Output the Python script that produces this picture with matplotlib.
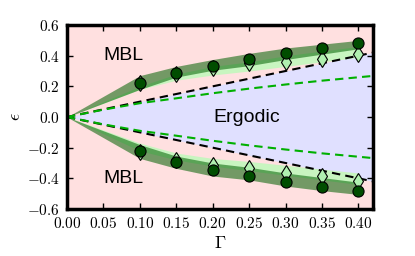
import matplotlib
matplotlib.use('Agg')
import matplotlib.pyplot as plt
from matplotlib.ticker import FuncFormatter

plt.rcParams['mathtext.fontset'] = 'cm'

# data
gamma = [0.10, 0.15, 0.20, 0.25, 0.30, 0.35, 0.40]
eps_circ_up = [0.22, 0.29, 0.335, 0.378, 0.42, 0.448, 0.48]
eps_circ_dn = [-0.22, -0.295, -0.345, -0.382, -0.421, -0.454, -0.482]
eps_diam_up = [0.225, 0.28, 0.32, 0.35, 0.36, 0.378, 0.41]
eps_diam_dn = [-0.225, -0.28, -0.313, -0.335, -0.363, -0.385, -0.415]

band_g = [0.0, 0.10, 0.15, 0.20, 0.25, 0.30, 0.35, 0.40]
dark_up_hi = [0.0, 0.27, 0.33, 0.375, 0.415, 0.45, 0.475, 0.50]
dark_up_lo = [0.0, 0.18, 0.26, 0.305, 0.335, 0.375, 0.41, 0.445]
light_up_hi = [0.0, 0.20, 0.28, 0.33, 0.36, 0.40, 0.43, 0.46]
light_up_lo = [0.0, 0.18, 0.24, 0.274, 0.30, 0.33, 0.36, 0.39]
dark_dn_hi = [0.0, -0.18, -0.255, -0.30, -0.328, -0.365, -0.395, -0.425]
dark_dn_lo = [0.0, -0.27, -0.335, -0.385, -0.41, -0.45, -0.48, -0.505]
light_dn_hi = [0.0, -0.17, -0.235, -0.27, -0.29, -0.315, -0.34, -0.365]
light_dn_lo = [0.0, -0.22, -0.28, -0.32, -0.35, -0.38, -0.41, -0.44]

edge_g = [0.0, 0.42]
edge_eps = [0.0, 0.42]

green_g = [0.0, 0.05, 0.10, 0.15, 0.20, 0.25, 0.30, 0.35, 0.42]
green_eps = [0.0, 0.048, 0.09, 0.122, 0.155, 0.185, 0.212, 0.237, 0.268]

fig = plt.figure(figsize=(4.15, 2.56), dpi=100)
ax = fig.add_axes([0.1614, 0.1836, 0.7374, 0.7187])
ax.set_facecolor('#ffe0e0')

# ergodic region
ax.fill_between(edge_g, [-e for e in edge_eps], edge_eps, color='#e0e0ff', lw=0, zorder=1)

# error bands
ax.fill_between(band_g, light_up_lo, light_up_hi, color='#c8f5c0', lw=0, zorder=2)
ax.fill_between(band_g, light_dn_lo, light_dn_hi, color='#c8f5c0', lw=0, zorder=2)
ax.fill_between(band_g, dark_up_lo, dark_up_hi, color='#006000', alpha=0.55, lw=0, zorder=3)
ax.fill_between(band_g, dark_dn_lo, dark_dn_hi, color='#006000', alpha=0.55, lw=0, zorder=3)

# boundaries
ax.plot(edge_g, edge_eps, '--', color='k', lw=1.5, dashes=(4, 2.5), zorder=4)
ax.plot(edge_g, [-e for e in edge_eps], '--', color='k', lw=1.5, dashes=(4, 2.5), zorder=4)
ax.plot(green_g, green_eps, '--', color='#00b000', lw=1.5, dashes=(4, 2.5), zorder=4)
ax.plot(green_g, [-e for e in green_eps], '--', color='#00b000', lw=1.5, dashes=(4, 2.5), zorder=4)

# markers
ax.plot(gamma, eps_diam_up, 'd', ms=8, mfc='#b0f0b0', mec='k', mew=0.8, zorder=5)
ax.plot(gamma, eps_diam_dn, 'd', ms=8, mfc='#b0f0b0', mec='k', mew=0.8, zorder=5)
ax.plot(gamma, eps_circ_up, 'o', ms=8, mfc='#004d00', mec='k', mew=0.8, zorder=6)
ax.plot(gamma, eps_circ_dn, 'o', ms=8, mfc='#004d00', mec='k', mew=0.8, zorder=6)

ax.text(0.078, 0.40, 'MBL', family='Liberation Sans', fontsize=14, ha='center', va='center', zorder=7)
ax.text(0.078, -0.40, 'MBL', family='Liberation Sans', fontsize=14, ha='center', va='center', zorder=7)
ax.text(0.247, 0.0, 'Ergodic', family='Liberation Sans', fontsize=14, ha='center', va='center', zorder=7)

ax.set_xlim(0, 0.42)
ax.set_ylim(-0.6, 0.6)
ax.set_xticks([0.0, 0.05, 0.10, 0.15, 0.20, 0.25, 0.30, 0.35, 0.40])
ax.set_yticks([-0.6, -0.4, -0.2, 0.0, 0.2, 0.4, 0.6])
ax.xaxis.set_major_formatter(FuncFormatter(lambda v, p: r'$%.2f$' % v))
ax.yaxis.set_major_formatter(FuncFormatter(lambda v, p: r'$%.1f$' % v))
ax.tick_params(direction='in', length=4, width=1, top=True, right=True, labelsize=11, pad=5)
for s in ax.spines.values():
    s.set_linewidth(2.5)
    s.set_zorder(10)

ax.set_xlabel(r'$\Gamma$', fontsize=13, labelpad=2)
ax.set_ylabel(r'$\epsilon$', fontsize=13, labelpad=2)

fig.savefig('out.png', dpi=100)
